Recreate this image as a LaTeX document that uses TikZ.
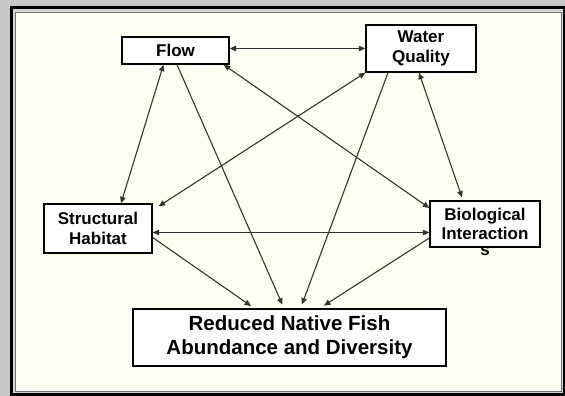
\documentclass[tikz,border=0pt]{standalone}
\usepackage{fontspec}
\setmainfont{Liberation Sans}
\usetikzlibrary{arrows.meta}
\definecolor{bggray}{HTML}{C8C8C8}
\definecolor{framelight}{HTML}{D6D6D6}
\definecolor{framedark}{HTML}{707070}
\definecolor{panel}{HTML}{FFFFF1}
\definecolor{linkc}{HTML}{333333}
\begin{document}
\begin{tikzpicture}[x=1pt,y=-1pt,
  box/.style={draw=black, line width=1.3pt, fill=white, inner sep=0pt, align=center,
    font=\fontsize{17}{19.5}\selectfont\bfseries},
  link/.style={draw=linkc, line width=1.1pt},
  both/.style={link, {Triangle[length=6.5pt,width=5.5pt]}-{Triangle[length=6.5pt,width=5.5pt]}},
  onew/.style={link, -{Triangle[length=6.5pt,width=5.5pt]}}]
\useasboundingbox (0,0) rectangle (565,396);
% window frame and panel
\fill[bggray] (0,0) rectangle (565,396);
\fill[black] (10,6) rectangle (565,396);
\fill[framelight] (13,9) rectangle (563,393);
\fill[framedark] (14.5,12) rectangle (562,392);
\fill[panel] (16,13.5) rectangle (561,391);

% factors
\node[box, minimum width=107pt, minimum height=27pt] (flow) at (175.5,50.5) {Flow};
\node[box, minimum width=110pt, minimum height=47pt] (wq) at (421,48.5) {Water\\Quality};
\node[box, minimum width=108pt, minimum height=49pt] (hab) at (98,228.5) {Structural\\Habitat};
\node[box, minimum width=110pt, minimum height=46pt] (bio) at (485,224) {Biological\\Interaction};
\node[inner sep=0pt, anchor=north, font=\fontsize{17}{19.5}\selectfont\bfseries] (bios) at ([yshift=1.5pt]bio.south) {s};
% outcome
\node[box, minimum width=313pt, minimum height=57pt,
      font=\fontsize{20.5}{24}\selectfont\bfseries] (red) at (289.5,337.5)
      {Reduced Native Fish\\Abundance and Diversity};

% links between factors
\draw[both] ([yshift=2pt]flow.east) -- ([yshift=2pt]flow.east -| wq.west);
\draw[both] ([xshift=-12pt]flow.south) -- ([xshift=23pt]hab.north);
\draw[both] ([xshift=-6pt]flow.south east) -- ([yshift=16pt]bio.west);
\draw[both] (wq.south west) -- ([xshift=6pt,yshift=-3pt]hab.north east);
\draw[both, shorten >=3pt] ([xshift=-2pt]wq.south) -- ([xshift=-22pt]bio.north);
\draw[both] ([yshift=-4pt]hab.east) -- ([yshift=-4pt]hab.east -| bio.west);

% links into the outcome
\draw[onew, shorten >=4pt] ([xshift=1.5pt]flow.south) -- ([xshift=-5.5pt]red.north);
\draw[onew, shorten >=4pt] ([xshift=-33pt]wq.south) -- ([xshift=11pt]red.north);
\draw[onew, shorten >=4pt] ([yshift=-9pt]hab.east) -- ([xshift=122pt]red.north west);
\draw[onew, shorten >=5pt] ([yshift=-14pt]bio.west) -- ([xshift=-127pt]red.north east);
\end{tikzpicture}
\end{document}
